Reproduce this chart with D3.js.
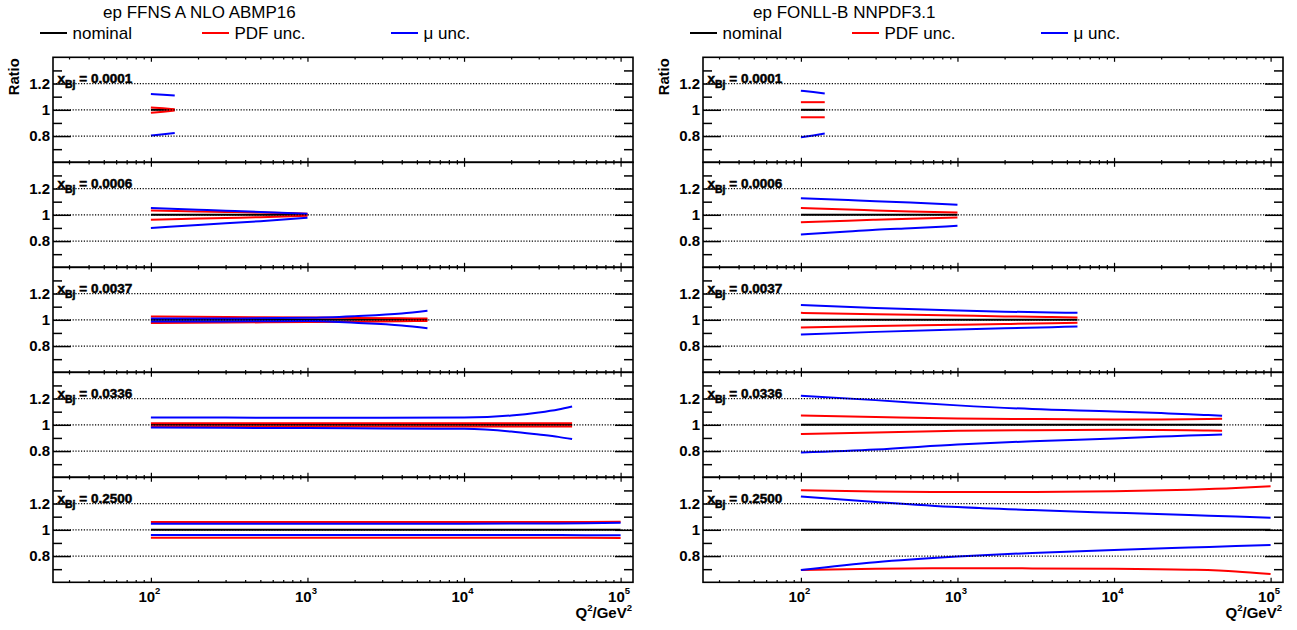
<!DOCTYPE html>
<html><head><meta charset="utf-8">
<script src="https://cdn.jsdelivr.net/npm/d3@7"></script>
<style>
body{margin:0;background:#fff}
svg{display:block}
text{font-family:"Liberation Sans",Arial,Helvetica,sans-serif;fill:#000}
</style>
</head><body>
<svg id="c" width="1297" height="630"></svg>
<script>
// ---------------- data ----------------
const panelTitles = ["ep FFNS A NLO ABMP16", "ep FONLL-B NNPDF3.1"];
const legendLabels = ["nominal", "PDF unc.", "\u03bc unc."];
const xBjLabels = ["0.0001", "0.0006", "0.0037", "0.0336", "0.2500"];
const yTickValues = [0.8, 1, 1.2];
const yTickLabels = ["0.8", "1", "1.2"];
const yMinorValues = [0.7, 0.9, 1.1, 1.3];
const xMajorValues = [1e2, 1e3, 1e4, 1e5];
const xTickExponents = ["2", "3", "4", "5"];
const xMinorValues = [30,40,50,60,70,80,90,200,300,400,500,600,700,800,900,
  2000,3000,4000,5000,6000,7000,8000,9000,20000,30000,40000,50000,60000,70000,80000,90000];

// Q^2 sampling points per x_Bj bin
const q2Points = [
  [100, 120, 142],
  [100, 200, 300, 500, 1000],
  [100, 300, 1000, 2000, 4000, 5840],
  [100, 300, 1000, 3000, 10000, 20000, 30000, 40000, 49000],
  [100, 300, 1000, 3000, 10000, 30000, 60000, 100000]
];

// ABMP16 (FFNS A NLO)
const abmpNominal = [
  [1,1,1], [1,1,1,1,1], [1,1,1,1,1,1], [1,1,1,1,1,1,1,1,1], [1,1,1,1,1,1,1,1]
];
const abmpPdfUp = [
  [1.018, 1.011, 1.005],
  [1.033, 1.026, 1.022, 1.017, 1.008],
  [1.025, 1.021, 1.017, 1.014, 1.011, 1.009],
  [1.012, 1.012, 1.012, 1.012, 1.012, 1.012, 1.012, 1.012, 1.012],
  [1.060, 1.060, 1.060, 1.060, 1.060, 1.060, 1.060, 1.061]
];
const abmpPdfDn = [
  [0.977, 0.986, 0.995],
  [0.962, 0.971, 0.976, 0.982, 0.992],
  [0.975, 0.979, 0.983, 0.986, 0.989, 0.991],
  [0.988, 0.988, 0.988, 0.988, 0.988, 0.988, 0.988, 0.988, 0.988],
  [0.940, 0.940, 0.940, 0.940, 0.940, 0.940, 0.939, 0.938]
];
const abmpMuUp = [
  [1.120, 1.115, 1.109],
  [1.051, 1.038, 1.031, 1.022, 1.008],
  [1.010, 1.010, 1.015, 1.028, 1.048, 1.069],
  [1.056, 1.055, 1.054, 1.053, 1.055, 1.071, 1.094, 1.117, 1.140],
  [1.047, 1.047, 1.047, 1.047, 1.047, 1.048, 1.050, 1.053]
];
const abmpMuDn = [
  [0.804, 0.814, 0.824],
  [0.900, 0.922, 0.935, 0.951, 0.977],
  [0.987, 0.988, 0.990, 0.977, 0.957, 0.936],
  [0.980, 0.977, 0.975, 0.972, 0.969, 0.949, 0.926, 0.908, 0.891],
  [0.960, 0.960, 0.960, 0.960, 0.960, 0.960, 0.959, 0.958]
];

// NNPDF3.1 (FONLL-B)
const nnpdfNominal = abmpNominal;
const nnpdfPdfUp = [
  [1.058, 1.058, 1.058],
  [1.051, 1.040, 1.033, 1.026, 1.018],
  [1.053, 1.043, 1.033, 1.026, 1.021, 1.018],
  [1.071, 1.060, 1.048, 1.044, 1.041, 1.041, 1.042, 1.044, 1.046],
  [1.301, 1.291, 1.288, 1.288, 1.293, 1.305, 1.318, 1.332]
];
const nnpdfPdfDn = [
  [0.943, 0.943, 0.943],
  [0.944, 0.955, 0.962, 0.970, 0.980],
  [0.941, 0.952, 0.962, 0.968, 0.974, 0.977],
  [0.929, 0.942, 0.954, 0.959, 0.962, 0.961, 0.959, 0.956, 0.954],
  [0.694, 0.704, 0.707, 0.706, 0.704, 0.696, 0.683, 0.663]
];
const nnpdfMuUp = [
  [1.145, 1.135, 1.125],
  [1.127, 1.112, 1.104, 1.093, 1.076],
  [1.112, 1.090, 1.071, 1.062, 1.056, 1.053],
  [1.221, 1.188, 1.148, 1.120, 1.102, 1.089, 1.081, 1.074, 1.069],
  [1.253, 1.212, 1.173, 1.150, 1.130, 1.112, 1.101, 1.092]
];
const nnpdfMuDn = [
  [0.790, 0.805, 0.820],
  [0.850, 0.872, 0.886, 0.898, 0.916],
  [0.888, 0.908, 0.926, 0.935, 0.944, 0.949],
  [0.789, 0.812, 0.850, 0.875, 0.896, 0.910, 0.919, 0.923, 0.926],
  [0.694, 0.753, 0.796, 0.824, 0.847, 0.865, 0.876, 0.885]
];

const panels = [
  {nominal: abmpNominal, pdfUp: abmpPdfUp, pdfDn: abmpPdfDn, muUp: abmpMuUp, muDn: abmpMuDn},
  {nominal: nnpdfNominal, pdfUp: nnpdfPdfUp, pdfDn: nnpdfPdfDn, muUp: nnpdfMuUp, muDn: nnpdfMuDn}
];

// ---------------- layout ----------------
const svg = d3.select("#c");
const W = 1297, H = 630;
svg.append("rect").attr("width", W).attr("height", H).attr("fill", "#fff");

const panelOffset = 650;
const frameL = 53, frameR = 633;
const rowTop0 = 57.3, rowH = 105;
const nRows = xBjLabels.length;
const colors = {nominal: "#000", pdf: "#ff0000", mu: "#0000ff"};

panels.forEach((pd, p) => {
  const ox = p * panelOffset;
  const g = svg.append("g");
  const x = d3.scaleLog().domain([23.7, 1.2e5]).range([frameL + ox, frameR + ox]);

  // title
  g.append("text").attr("x", 103 + ox).attr("y", 17.5)
    .attr("font-size", 17).text(panelTitles[p]);

  // legend
  const legX = [40, 202, 391];
  const legC = [colors.nominal, colors.pdf, colors.mu];
  legendLabels.forEach((lab, i) => {
    g.append("line").attr("x1", legX[i] + ox).attr("x2", legX[i] + 27 + ox)
      .attr("y1", 33).attr("y2", 33).attr("stroke", legC[i]).attr("stroke-width", 2);
    g.append("text").attr("x", legX[i] + 32.5 + ox).attr("y", 38.5)
      .attr("font-size", 17).text(lab);
  });

  for (let r = 0; r < nRows; r++) {
    const top = rowTop0 + r * rowH;
    const y = d3.scaleLinear().domain([0.6, 1.4]).range([top + rowH, top]);
    const rg = g.append("g");

    // curves
    const line = d3.line().x(d => x(d[0])).y(d => y(d[1])).curve(d3.curveMonotoneX);
    const pts = arr => q2Points[r].map((q, i) => [q, arr[r][i]]);
    const series = [
      {d: pd.nominal, c: colors.nominal},
      {d: pd.pdfUp, c: colors.pdf},
      {d: pd.pdfDn, c: colors.pdf},
      {d: pd.muUp, c: colors.mu},
      {d: pd.muDn, c: colors.mu}
    ];
    series.forEach(s => {
      rg.append("path").datum(pts(s.d)).attr("d", line)
        .attr("fill", "none").attr("stroke", s.c).attr("stroke-width", 2);
    });

    // dotted grid lines
    rg.selectAll(".grid").data(yTickValues).enter().append("line")
      .attr("x1", frameL + ox).attr("x2", frameR + ox)
      .attr("y1", d => y(d)).attr("y2", d => y(d))
      .attr("stroke", "#000").attr("stroke-width", 1.2).attr("stroke-dasharray", "1.2,1.6");

    // y axes (ticks inward on both sides)
    const yMajL = d3.axisRight(y).tickValues(yTickValues).tickSize(18).tickFormat("");
    const yMinL = d3.axisRight(y).tickValues(yMinorValues).tickSize(9).tickFormat("");
    const yMajR = d3.axisLeft(y).tickValues(yTickValues).tickSize(18).tickFormat("");
    const yMinR = d3.axisLeft(y).tickValues(yMinorValues).tickSize(9).tickFormat("");
    [[yMajL, frameL], [yMinL, frameL], [yMajR, frameR], [yMinR, frameR]].forEach(([ax, px]) => {
      const a = rg.append("g").attr("transform", `translate(${px + ox},0)`).call(ax);
      a.select(".domain").remove();
      a.selectAll("line").attr("stroke", "#000").attr("stroke-width", 1.5);
    });

    // x axes (ticks inward top & bottom)
    const xMajT = d3.axisBottom(x).tickValues(xMajorValues).tickSize(4.5).tickFormat("");
    const xMinT = d3.axisBottom(x).tickValues(xMinorValues).tickSize(2.2).tickFormat("");
    const xMajB = d3.axisTop(x).tickValues(xMajorValues).tickSize(4.5).tickFormat("");
    const xMinB = d3.axisTop(x).tickValues(xMinorValues).tickSize(2.2).tickFormat("");
    [[xMajT, top], [xMinT, top], [xMajB, top + rowH], [xMinB, top + rowH]].forEach(([ax, py]) => {
      const a = rg.append("g").attr("transform", `translate(0,${py})`).call(ax);
      a.select(".domain").remove();
      a.selectAll("line").attr("stroke", "#000").attr("stroke-width", 1.2);
    });

    // frame
    rg.append("rect").attr("x", frameL + ox).attr("y", top)
      .attr("width", frameR - frameL).attr("height", rowH)
      .attr("fill", "none").attr("stroke", "#000").attr("stroke-width", 1.6);

    // y tick labels
    yTickValues.forEach((v, i) => {
      rg.append("text").attr("x", frameL - 3 + ox).attr("y", y(v) + 5.4)
        .attr("text-anchor", "end").attr("font-size", 15).attr("font-weight", "bold")
        .text(yTickLabels[i]);
    });

    // x_Bj label
    const t = rg.append("text").attr("x", 57.5 + ox).attr("y", y(1.2) - 0.3)
      .attr("font-size", 13.5).attr("font-weight", "bold")
      .attr("stroke", "#000").attr("stroke-width", 0.5);
    t.append("tspan").text("x");
    t.append("tspan").attr("font-size", 10.5).attr("dy", 4.5).text("Bj");
    t.append("tspan").attr("dy", -4.5).text(" = " + xBjLabels[r]);

    // "Ratio" title on first row
    if (r === 0) {
      rg.append("text").attr("transform", `translate(${18.5 + ox},${top + 1}) rotate(-90)`)
        .attr("text-anchor", "end").attr("font-size", 14.8).attr("font-weight", "bold")
        .text("Ratio");
    }

    // x tick labels on last row
    if (r === nRows - 1) {
      xMajorValues.forEach((v, i) => {
        const tt = rg.append("text").attr("x", x(v) - 1.5).attr("y", top + rowH + 19.5)
          .attr("text-anchor", "middle").attr("font-size", 15).attr("font-weight", "bold");
        tt.append("tspan").text("10");
        tt.append("tspan").attr("font-size", 9.5).attr("dy", -7.5).text(xTickExponents[i]);
      });
      const xt = rg.append("text").attr("x", frameR - 1 + ox).attr("y", top + rowH + 36)
        .attr("text-anchor", "end").attr("font-size", 15).attr("font-weight", "bold");
      xt.append("tspan").text("Q");
      xt.append("tspan").attr("font-size", 9.5).attr("dy", -7).text("2");
      xt.append("tspan").attr("dy", 7).text("/GeV");
      xt.append("tspan").attr("font-size", 9.5).attr("dy", -7).text("2");
    }
  }
});
</script>
</body></html>
